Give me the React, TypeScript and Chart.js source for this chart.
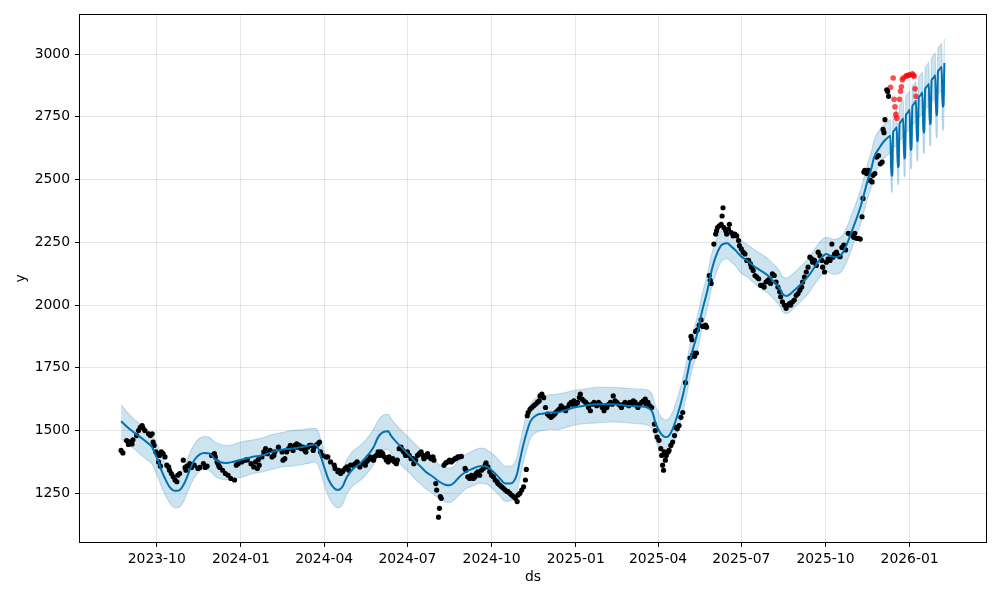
import React, { useEffect, useRef } from "react";
import { Chart, registerables } from "chart.js";

Chart.register(...registerables);

// x values are days since 2023-10-01
const tickDays = [0, 92, 183, 274, 366, 458, 548, 639, 731, 823];
const tickLabels = ["2023-10", "2024-01", "2024-04", "2024-07", "2024-10", "2025-01", "2025-04", "2025-07", "2025-10", "2026-01"];
const yTicks = [1250, 1500, 1750, 2000, 2250, 2500, 2750, 3000];

// observed history [day, y]
const observed: [number, number][] = [
  [-39, 1421], [-37, 1411], [-33, 1460], [-31, 1445], [-30, 1455], [-27, 1447], [-26, 1463], [-22, 1480], [-20, 1500], [-18, 1513],
  [-16, 1520], [-15, 1510], [-13, 1500], [-9, 1487], [-7, 1480], [-5, 1487], [-4, 1454], [-3, 1441], [-1, 1415], [1, 1408],
  [2, 1375], [3, 1401], [4, 1358], [5, 1415], [7, 1408], [9, 1395], [11, 1362], [13, 1355], [14, 1342], [16, 1329],
  [18, 1316], [20, 1303], [22, 1296], [23, 1322], [25, 1329], [29, 1382], [31, 1353], [32, 1342], [33, 1358], [36, 1368],
  [38, 1353], [41, 1362], [45, 1349], [47, 1353], [51, 1368], [53, 1353], [55, 1358], [60, 1401], [63, 1408], [64, 1395],
  [66, 1375], [67, 1368], [68, 1358], [69, 1353], [72, 1342], [75, 1329], [78, 1322], [81, 1309], [85, 1303], [87, 1362],
  [89, 1368], [93, 1375], [97, 1382], [99, 1384], [103, 1368], [106, 1355], [108, 1375], [110, 1349], [111, 1384], [112, 1362],
  [115, 1395], [117, 1415], [119, 1428], [121, 1408], [124, 1421], [126, 1395], [128, 1401], [129, 1415], [133, 1434], [137, 1415],
  [138, 1382], [140, 1388], [142, 1415], [144, 1428], [146, 1441], [147, 1434], [149, 1421], [151, 1441], [153, 1447], [154, 1434],
  [156, 1441], [158, 1428], [160, 1434], [162, 1421], [163, 1415], [165, 1434], [167, 1441], [169, 1441], [171, 1421], [172, 1434],
  [174, 1441], [176, 1447], [178, 1454], [179, 1415], [181, 1401], [185, 1395], [187, 1395], [190, 1375], [194, 1362], [195, 1349],
  [198, 1336], [199, 1342], [201, 1329], [203, 1336], [204, 1342], [206, 1349], [208, 1355], [210, 1342], [212, 1362], [215, 1362],
  [217, 1368], [219, 1375], [220, 1368], [222, 1355], [226, 1368], [228, 1362], [229, 1375], [231, 1382], [233, 1395], [235, 1388],
  [237, 1382], [238, 1395], [240, 1401], [242, 1415], [244, 1401], [245, 1415], [247, 1408], [249, 1395], [251, 1382], [253, 1375],
  [254, 1395], [256, 1382], [258, 1388], [260, 1375], [262, 1368], [263, 1382], [265, 1428], [267, 1434], [269, 1421], [270, 1415],
  [272, 1401], [274, 1415], [276, 1401], [278, 1388], [280, 1388], [281, 1368], [283, 1382], [285, 1401], [287, 1408], [289, 1415],
  [291, 1401], [292, 1388], [294, 1395], [296, 1408], [298, 1395], [300, 1388], [302, 1395], [303, 1382], [305, 1289], [306, 1263],
  [308, 1155], [309, 1190], [310, 1237], [311, 1230], [314, 1362], [316, 1371], [318, 1375], [320, 1382], [322, 1375], [324, 1382],
  [326, 1388], [327, 1388], [329, 1395], [331, 1395], [333, 1397], [337, 1349], [338, 1342], [340, 1316], [342, 1309], [344, 1322],
  [346, 1309], [348, 1316], [349, 1329], [351, 1336], [353, 1322], [355, 1342], [357, 1349], [359, 1362], [360, 1371], [362, 1355],
  [364, 1336], [366, 1322], [368, 1316], [370, 1303], [372, 1296], [373, 1289], [375, 1283], [377, 1276], [379, 1270], [381, 1263],
  [383, 1257], [384, 1257], [386, 1250], [388, 1243], [390, 1237], [392, 1230], [394, 1217], [395, 1243], [397, 1250], [399, 1263],
  [401, 1276], [403, 1303], [404, 1345], [405, 1559], [406, 1572], [408, 1585], [410, 1592], [412, 1599], [414, 1605], [416, 1612],
  [418, 1618], [419, 1638], [421, 1645], [423, 1631], [425, 1592], [427, 1566], [429, 1559], [431, 1553], [433, 1559], [435, 1566],
  [436, 1572], [438, 1579], [440, 1586], [442, 1599], [444, 1592], [445, 1586], [447, 1579], [449, 1592], [451, 1605], [453, 1612],
  [454, 1605], [456, 1618], [458, 1605], [460, 1612], [462, 1632], [463, 1645], [465, 1625], [467, 1618], [469, 1612], [471, 1605],
  [472, 1592], [474, 1579], [476, 1605], [478, 1612], [480, 1605], [481, 1599], [483, 1612], [485, 1605], [487, 1592], [489, 1579],
  [490, 1599], [492, 1592], [494, 1605], [496, 1612], [498, 1605], [499, 1638], [501, 1618], [503, 1612], [505, 1605], [507, 1599],
  [508, 1592], [510, 1605], [512, 1612], [514, 1605], [516, 1599], [517, 1612], [519, 1605], [521, 1618], [523, 1612], [525, 1599],
  [526, 1592], [528, 1605], [530, 1612], [532, 1618], [534, 1625], [535, 1605], [537, 1612], [539, 1599], [541, 1592], [544, 1526],
  [545, 1500], [547, 1474], [549, 1461], [551, 1428], [552, 1401], [553, 1362], [554, 1342], [555, 1415], [556, 1382], [557, 1401],
  [559, 1415], [560, 1421], [562, 1441], [564, 1454], [566, 1480], [567, 1513], [569, 1507], [571, 1520], [573, 1553], [575, 1572],
  [578, 1691], [583, 1789], [584, 1875], [585, 1862], [586, 1803], [587, 1809], [588, 1796], [589, 1895], [590, 1809], [591, 1901],
  [593, 1920], [595, 1941], [597, 1915], [598, 1915], [600, 1920], [601, 1912], [604, 2118], [605, 2099], [606, 2086], [609, 2243],
  [611, 2283], [612, 2296], [613, 2309], [615, 2316], [617, 2322], [618, 2355], [619, 2388], [620, 2309], [622, 2296], [623, 2283],
  [625, 2303], [626, 2322], [628, 2289], [630, 2276], [632, 2283], [634, 2276], [636, 2257], [637, 2237], [639, 2224], [641, 2211],
  [643, 2204], [645, 2178], [647, 2178], [649, 2164], [650, 2151], [652, 2138], [654, 2118], [656, 2112], [658, 2105], [660, 2079],
  [662, 2079], [664, 2072], [666, 2092], [668, 2099], [670, 2105], [671, 2086], [673, 2125], [675, 2118], [677, 2092], [679, 2072],
  [681, 2053], [682, 2033], [684, 2013], [686, 2000], [688, 1987], [690, 2000], [692, 2007], [693, 2000], [695, 2013], [697, 2020],
  [699, 2039], [701, 2046], [703, 2059], [705, 2072], [706, 2092], [708, 2112], [710, 2132], [712, 2151], [714, 2191], [716, 2184],
  [717, 2171], [719, 2178], [721, 2158], [723, 2211], [725, 2197], [727, 2178], [728, 2151], [730, 2132], [732, 2171], [734, 2184],
  [736, 2178], [738, 2243], [739, 2191], [741, 2204], [743, 2211], [745, 2197], [747, 2193], [749, 2230], [751, 2239], [753, 2220],
  [756, 2286], [758, 2283], [760, 2279], [762, 2270], [763, 2286], [765, 2266], [767, 2266], [769, 2263], [771, 2352], [772, 2425],
  [773, 2530], [774, 2537], [776, 2524], [778, 2537], [780, 2497], [782, 2491], [783, 2517], [785, 2524], [787, 2590], [789, 2596],
  [791, 2563], [793, 2570], [794, 2700], [795, 2687], [796, 2739], [798, 2858], [799, 2851], [800, 2832],
];

// held-out actuals (red)
const testDays = [802, 805, 806, 807, 808, 809, 812, 813, 814, 815, 816, 819, 820, 822, 823, 826, 827, 828, 829, 830];
const testValues = [2868, 2905, 2820, 2790, 2760, 2745, 2820, 2852, 2870, 2898, 2905, 2912, 2915, 2916, 2918, 2922, 2916, 2912, 2862, 2832];

// fitted model over history
const histDays = [
  -39, -32, -25, -18, -11, -5, -2, 2, 5, 9, 14, 20, 25, 31, 36, 41, 47, 52, 58, 63,
  69, 76, 83, 90, 97, 104, 115, 126, 137, 147, 158, 167, 172, 176, 179, 183, 188, 194, 198, 203,
  208, 215, 222, 229, 237, 242, 247, 253, 256, 262, 269, 276, 283, 287, 294, 302, 309, 316, 320, 324,
  331, 338, 346, 353, 359, 362, 368, 375, 381, 386, 390, 394, 397, 401, 405, 408, 412, 418, 423, 429,
  438, 445, 456, 467, 481, 499, 517, 529, 536, 542, 545, 549, 553, 556, 560, 564, 569, 575, 580, 585,
  591, 596, 602, 607, 613, 618, 624, 627, 633, 638, 646, 653, 660, 668, 675, 681, 684, 688, 692, 697,
  705, 712, 719, 727, 732, 736, 741, 745, 749, 752, 756, 760, 765, 770, 773, 777, 781, 784, 790, 795, 801,
];
const histYhat = [
  1537, 1513, 1493, 1474, 1454, 1434, 1408, 1375, 1342, 1309, 1276, 1260, 1263, 1296, 1342, 1382, 1405, 1411, 1408, 1388,
  1375, 1371, 1375, 1382, 1388, 1395, 1401, 1415, 1424, 1428, 1434, 1441, 1445, 1434, 1401, 1355, 1303, 1270, 1263, 1276,
  1316, 1349, 1368, 1395, 1434, 1474, 1493, 1497, 1480, 1454, 1428, 1401, 1375, 1362, 1336, 1316, 1296, 1283, 1282, 1289,
  1316, 1336, 1349, 1358, 1358, 1353, 1336, 1309, 1289, 1289, 1296, 1329, 1382, 1447, 1500, 1533, 1553, 1566, 1568, 1572,
  1572, 1579, 1592, 1599, 1605, 1605, 1598, 1596, 1592, 1572, 1533, 1500, 1480, 1474, 1480, 1507, 1559, 1638, 1724, 1809,
  1888, 1974, 2059, 2145, 2211, 2241, 2246, 2237, 2217, 2197, 2175, 2155, 2138, 2118, 2092, 2066, 2046, 2036, 2043, 2059,
  2086, 2114, 2151, 2191, 2204, 2197, 2191, 2193, 2204, 2224, 2257, 2296, 2345, 2400, 2440, 2495, 2541, 2587, 2627, 2653, 2673,
];
const histUpper = [
  1603, 1572, 1545, 1525, 1505, 1485, 1462, 1432, 1405, 1372, 1342, 1328, 1335, 1365, 1410, 1445, 1470, 1476, 1472, 1455,
  1446, 1440, 1444, 1452, 1458, 1462, 1470, 1484, 1492, 1500, 1503, 1508, 1510, 1500, 1468, 1420, 1370, 1338, 1335, 1345,
  1385, 1420, 1440, 1465, 1505, 1540, 1560, 1566, 1548, 1522, 1495, 1470, 1445, 1430, 1405, 1385, 1365, 1352, 1350, 1355,
  1385, 1405, 1420, 1430, 1428, 1420, 1405, 1378, 1358, 1358, 1365, 1398, 1450, 1515, 1570, 1600, 1622, 1635, 1640, 1642,
  1645, 1650, 1660, 1665, 1672, 1672, 1668, 1665, 1662, 1640, 1600, 1568, 1548, 1542, 1548, 1575, 1628, 1705, 1790, 1875,
  1955, 2040, 2125, 2208, 2272, 2300, 2305, 2298, 2280, 2260, 2240, 2222, 2205, 2185, 2160, 2135, 2115, 2108, 2114, 2130,
  2158, 2185, 2222, 2260, 2270, 2266, 2262, 2265, 2275, 2292, 2325, 2365, 2412, 2468, 2508, 2562, 2610, 2655, 2698, 2718, 2738,
];
const histLower = [
  1467, 1447, 1428, 1405, 1385, 1365, 1342, 1308, 1278, 1245, 1212, 1192, 1195, 1230, 1275, 1312, 1338, 1345, 1340, 1320,
  1308, 1303, 1306, 1312, 1318, 1328, 1335, 1346, 1355, 1358, 1364, 1370, 1375, 1366, 1335, 1285, 1235, 1200, 1192, 1205,
  1248, 1282, 1300, 1325, 1365, 1405, 1420, 1425, 1410, 1385, 1356, 1332, 1305, 1292, 1268, 1248, 1228, 1215, 1213, 1220,
  1245, 1268, 1280, 1290, 1288, 1285, 1265, 1240, 1218, 1220, 1228, 1260, 1312, 1378, 1430, 1465, 1485, 1498, 1500, 1505,
  1503, 1510, 1522, 1528, 1530, 1535, 1530, 1526, 1522, 1505, 1465, 1432, 1410, 1404, 1412, 1438, 1490, 1570, 1655, 1740,
  1818, 1905, 1990, 2075, 2142, 2178, 2185, 2175, 2155, 2130, 2110, 2088, 2068, 2048, 2022, 1996, 1975, 1966, 1973, 1990,
  2018, 2045, 2082, 2122, 2135, 2128, 2122, 2125, 2135, 2155, 2188, 2228, 2278, 2330, 2372, 2425, 2470, 2515, 2556, 2584, 2605,
];

// daily forecast (weekend dips)
const fcDays = [
  802, 803, 804, 805, 806, 807, 808, 809, 810, 811, 812, 813, 814, 815, 816, 817, 818, 819, 820, 821,
  822, 823, 824, 825, 826, 827, 828, 829, 830, 831, 832, 833, 834, 835, 836, 837, 838, 839, 840, 841,
  842, 843, 844, 845, 846, 847, 848, 849, 850, 851, 852, 853, 854, 855, 856, 857, 858, 859, 860, 861,
];
const fcYhat = [
  2675, 2515, 2519, 2690, 2695, 2700, 2704, 2709, 2549, 2554, 2724, 2729, 2734, 2739, 2744, 2584, 2589, 2759, 2763, 2768,
  2773, 2778, 2618, 2623, 2793, 2798, 2803, 2808, 2813, 2653, 2658, 2827, 2832, 2837, 2842, 2847, 2687, 2692, 2862, 2867,
  2872, 2876, 2881, 2721, 2726, 2896, 2901, 2906, 2911, 2916, 2756, 2761, 2931, 2936, 2941, 2945, 2950, 2790, 2795, 2965,
];
const fcUpper = [
  2740, 2581, 2585, 2757, 2762, 2768, 2772, 2778, 2618, 2624, 2794, 2800, 2805, 2811, 2816, 2657, 2662, 2833, 2837, 2843,
  2848, 2854, 2694, 2700, 2870, 2876, 2881, 2887, 2892, 2733, 2738, 2908, 2913, 2919, 2924, 2930, 2770, 2776, 2946, 2952,
  2957, 2962, 2967, 2808, 2813, 2984, 2989, 2995, 3000, 3006, 2846, 2852, 3022, 3028, 3033, 3038, 3043, 2884, 2889, 3060,
];
const fcLower = [
  2610, 2449, 2453, 2623, 2628, 2632, 2636, 2640, 2480, 2484, 2654, 2658, 2663, 2667, 2672, 2511, 2516, 2685, 2689, 2693,
  2698, 2702, 2542, 2546, 2716, 2720, 2725, 2729, 2734, 2573, 2578, 2746, 2751, 2755, 2760, 2764, 2604, 2608, 2778, 2782,
  2787, 2790, 2795, 2634, 2639, 2808, 2813, 2817, 2822, 2826, 2666, 2670, 2840, 2844, 2849, 2852, 2857, 2696, 2701, 2870,
];

const FONT_FAMILY = "'DejaVu Sans', sans-serif";

const framePlugin = {
  id: "frame",
  afterDraw(chart: any) {
    const { ctx, chartArea } = chart;
    const { left, top, right, bottom } = chartArea;
    ctx.save();
    ctx.strokeStyle = "#000";
    ctx.lineWidth = 1;
    ctx.strokeRect(left - 0.5, top - 0.5, right - left + 1, bottom - top + 1);
    ctx.restore();
  },
};

export default function App() {
  const ref = useRef<HTMLCanvasElement | null>(null);

  useEffect(() => {
    document.body.style.margin = "0";
    const canvas = ref.current;
    if (!canvas) return;

    const allDays = histDays.concat(fcDays);
    const allYhat = histYhat.concat(fcYhat);
    const allUpper = histUpper.concat(fcUpper);
    const allLower = histLower.concat(fcLower);

    const font = { family: FONT_FAMILY, size: 13.9 };
    const band = "rgba(0,114,178,0.2)";
    const grid = {
      color: "rgba(128,128,128,0.2)",
      lineWidth: 1,
      tickColor: "#000",
      tickLength: 5,
      tickWidth: 1,
      drawTicks: true,
    };

    const chart = new Chart(canvas, {
      type: "line",
      data: {
        datasets: [
          {
            label: "lower",
            data: allDays.map((d, i) => ({ x: d, y: allLower[i] })),
            borderColor: band,
            borderWidth: 1.2,
            pointRadius: 0,
            fill: false,
            cubicInterpolationMode: "monotone",
            order: 5,
          },
          {
            label: "upper",
            data: allDays.map((d, i) => ({ x: d, y: allUpper[i] })),
            borderColor: band,
            backgroundColor: band,
            borderWidth: 1.2,
            pointRadius: 0,
            fill: "-1",
            cubicInterpolationMode: "monotone",
            order: 4,
          },
          {
            label: "test",
            data: testDays.map((d, i) => ({ x: d, y: testValues[i] })),
            showLine: false,
            pointRadius: 2.8,
            pointBorderWidth: 0,
            pointBackgroundColor: "rgba(255,0,0,0.7)",
            order: 3,
          },
          {
            label: "y",
            data: observed.map(([d, v]) => ({ x: d, y: v })),
            showLine: false,
            pointRadius: 2.6,
            pointBorderWidth: 0,
            pointBackgroundColor: "#000",
            order: 2,
          },
          {
            label: "yhat",
            data: allDays.map((d, i) => ({ x: d, y: allYhat[i] })),
            borderColor: "#0072B2",
            borderWidth: 2,
            pointRadius: 0,
            fill: false,
            cubicInterpolationMode: "monotone",
            order: 1,
          },
        ],
      },
      options: {
        animation: false,
        responsive: false,
        devicePixelRatio: 1,
        layout: { padding: { left: 0, right: 14, top: 15, bottom: 0 } },
        plugins: {
          legend: { display: false },
          tooltip: { enabled: false },
        },
        scales: {
          x: {
            type: "linear",
            min: -83.9,
            max: 906.5,
            afterBuildTicks: (s: any) => {
              s.ticks = tickDays.map((v) => ({ value: v }));
            },
            afterFit: (s: any) => {
              s.height = 58;
            },
            ticks: {
              callback: (_v: any, i: number) => tickLabels[i],
              font,
              color: "#000",
              padding: 4,
              maxRotation: 0,
              autoSkip: false,
            },
            grid,
            border: { display: false },
            title: {
              display: true,
              text: "ds",
              font,
              color: "#000",
              padding: { top: 0, bottom: 14 },
            },
          },
          y: {
            type: "linear",
            min: 1056,
            max: 3156,
            afterBuildTicks: (s: any) => {
              s.ticks = yTicks.map((v) => ({ value: v }));
            },
            afterFit: (s: any) => {
              s.width = 80;
            },
            ticks: {
              callback: (v: any) => String(v),
              font,
              color: "#000",
              padding: 5,
            },
            grid,
            border: { display: false },
            title: {
              display: true,
              text: "y",
              font,
              color: "#000",
              padding: { top: 13, bottom: 0 },
            },
          },
        },
      },
      plugins: [framePlugin],
    });

    return () => chart.destroy();
  }, []);

  return (
    <div style={{ width: 1000, height: 600 }}>
      <canvas ref={ref} width={1000} height={600} style={{ display: "block" }} />
    </div>
  );
}
